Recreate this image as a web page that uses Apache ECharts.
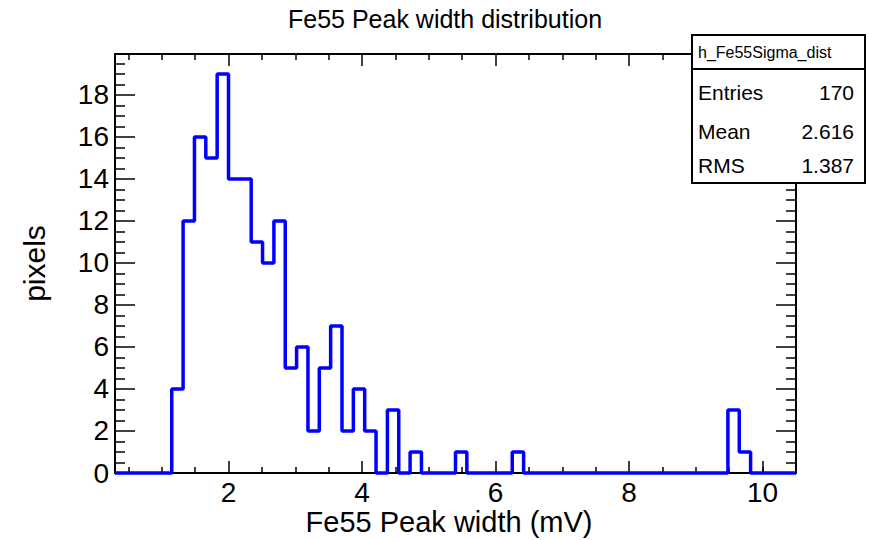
<!DOCTYPE html>
<html>
<head>
<meta charset="utf-8">
<script src="https://cdn.jsdelivr.net/npm/echarts@6/dist/echarts.min.js"></script>
<style>html,body{margin:0;padding:0;background:#fff}#c{width:869px;height:540px}</style>
</head>
<body>
<div id="c"></div>
<script>
// Histogram definition (ROOT TH1): 60 bins from 0.3 to 10.5
const histMin = 0.3;
const histMax = 10.5;
const counts = [
  0, 0, 0, 0, 0, 4, 12, 16, 15, 19,
  14, 14, 11, 10, 12, 5, 6, 2, 5, 7,
  2, 4, 2, 0, 3, 0, 1, 0, 0, 0,
  1, 0, 0, 0, 0, 1, 0, 0, 0, 0,
  0, 0, 0, 0, 0, 0, 0, 0, 0, 0,
  0, 0, 0, 0, 3, 1, 0, 0, 0, 0
];
const yMax = 19.95;
const xMajor = [2, 4, 6, 8, 10];
const xMinor = [0.5, 1, 1.5, 2.5, 3, 3.5, 4.5, 5, 5.5, 6.5, 7, 7.5, 8.5, 9, 9.5, 10];
const yMajor = [0, 2, 4, 6, 8, 10, 12, 14, 16, 18];
const yMinor = [0.5, 1, 1.5, 2.5, 3, 3.5, 4.5, 5, 5.5, 6.5, 7, 7.5, 8.5, 9, 9.5, 10.5, 11, 11.5, 12.5, 13, 13.5, 14.5, 15, 15.5, 16.5, 17, 17.5, 18.5, 19, 19.5];
const titleText = 'Fe55 Peak width distribution';
const xTitle = 'Fe55 Peak width (mV)';
const yTitle = 'pixels';
const statName = 'h_Fe55Sigma_dist';
const statLabels = ['Entries', 'Mean', 'RMS'];
const statValues = ['170', '2.616', '1.387'];

const FONT = 'Liberation Sans, Arial, Helvetica, sans-serif';
const binW = (histMax - histMin) / counts.length;
const stepData = [[histMin, 0]];
counts.forEach((v, i) => {
  const lo = histMin + i * binW, hi = lo + binW;
  stepData.push([lo, v], [hi, v]);
});
stepData.push([histMax, 0]);

const gridBox = { left: 115, right: 73, top: 54, bottom: 67, outerBoundsMode: 'none', containLabel: false };
const black = { color: '#000', width: 2 };

function xAxisDef(gridIndex, pos, ticks, len, main, labels) {
  const o = {
    type: 'value', gridIndex, position: pos, min: histMin, max: histMax,
    axisLine: { show: main, onZero: false, lineStyle: black },
    axisTick: { show: true, inside: true, length: len, customValues: ticks, lineStyle: { color: '#000', width: 1.5 } },
    axisLabel: { show: false },
    splitLine: { show: false }
  };
  if (labels) {
    o.axisLabel = { show: true, customValues: xMajor, color: '#000', fontSize: 28, lineHeight: 26, fontFamily: FONT, margin: 6 };
  }
  return o;
}
function yAxisDef(gridIndex, pos, ticks, len, main, labels) {
  const o = {
    type: 'value', gridIndex, position: pos, min: 0, max: yMax,
    axisLine: { show: main, onZero: false, lineStyle: black },
    axisTick: { show: true, inside: true, length: len, customValues: ticks, lineStyle: { color: '#000', width: 1.5 } },
    axisLabel: { show: false },
    splitLine: { show: false }
  };
  if (labels) {
    o.axisLabel = { show: true, customValues: yMajor, color: '#000', fontSize: 28, lineHeight: 26, fontFamily: FONT, margin: 6 };
    o.name = yTitle; o.nameLocation = 'middle'; o.nameGap = 66;
    o.nameTextStyle = { fontSize: 30, fontFamily: FONT, color: '#000' };
  }
  return o;
}

const chart = echarts.init(document.getElementById('c'), null, { renderer: 'svg' });
const bx = 692, by = 35, bw = 173, bh = 148, sep = 34;
const statGraphics = [
  { type: 'rect', shape: { x: bx, y: by, width: bw, height: bh }, style: { fill: '#fff', stroke: '#000', lineWidth: 2 }, z: 100 },
  { type: 'line', shape: { x1: bx, y1: by + sep, x2: bx + bw, y2: by + sep }, style: { stroke: '#000', lineWidth: 2 }, z: 101 },
  { type: 'text', x: bx + 6, y: by + sep / 2, style: { text: statName, fontSize: 16, fontFamily: FONT, fill: '#000', textVerticalAlign: 'middle' }, z: 101 }
];
const rowY = [92, 131, 165];
statLabels.forEach((l, i) => {
  statGraphics.push({ type: 'text', x: bx + 6, y: rowY[i], style: { text: l, fontSize: 21, fontFamily: FONT, fill: '#000', textVerticalAlign: 'middle' }, z: 101 });
  statGraphics.push({ type: 'text', x: bx + bw - 11, y: rowY[i], style: { text: statValues[i], fontSize: 21, fontFamily: FONT, fill: '#000', textAlign: 'right', textVerticalAlign: 'middle' }, z: 101 });
});

chart.setOption({
  animation: false,
  backgroundColor: '#fff',
  grid: [Object.assign({}, gridBox), Object.assign({}, gridBox)],
  xAxis: [
    xAxisDef(0, 'bottom', xMajor, 12, true, true),
    xAxisDef(0, 'top', xMajor, 12, true, false),
    xAxisDef(1, 'bottom', xMinor, 6, false, false),
    xAxisDef(1, 'top', xMinor, 6, false, false)
  ],
  yAxis: [
    yAxisDef(0, 'left', yMajor, 20, true, true),
    yAxisDef(0, 'right', yMajor, 20, true, false),
    yAxisDef(1, 'left', yMinor, 10, false, false),
    yAxisDef(1, 'right', yMinor, 10, false, false)
  ],
  graphic: [
    { type: 'text', x: 445, y: 19, style: { text: titleText, fontSize: 25, fontFamily: FONT, fill: '#000', textAlign: 'center', textVerticalAlign: 'middle' }, z: 101 },
    { type: 'text', x: 449, y: 522, style: { text: xTitle, fontSize: 29, lineHeight: 26, fontFamily: FONT, fill: '#000', textAlign: 'center', textVerticalAlign: 'middle' }, z: 101 }
  ].concat(statGraphics),
  series: [{
    type: 'line', xAxisIndex: 0, yAxisIndex: 0, data: stepData,
    showSymbol: false, symbol: 'none', clip: false,
    lineStyle: { color: '#0000ff', width: 3.5 }, z: 5
  }]
});
</script>
</body>
</html>
